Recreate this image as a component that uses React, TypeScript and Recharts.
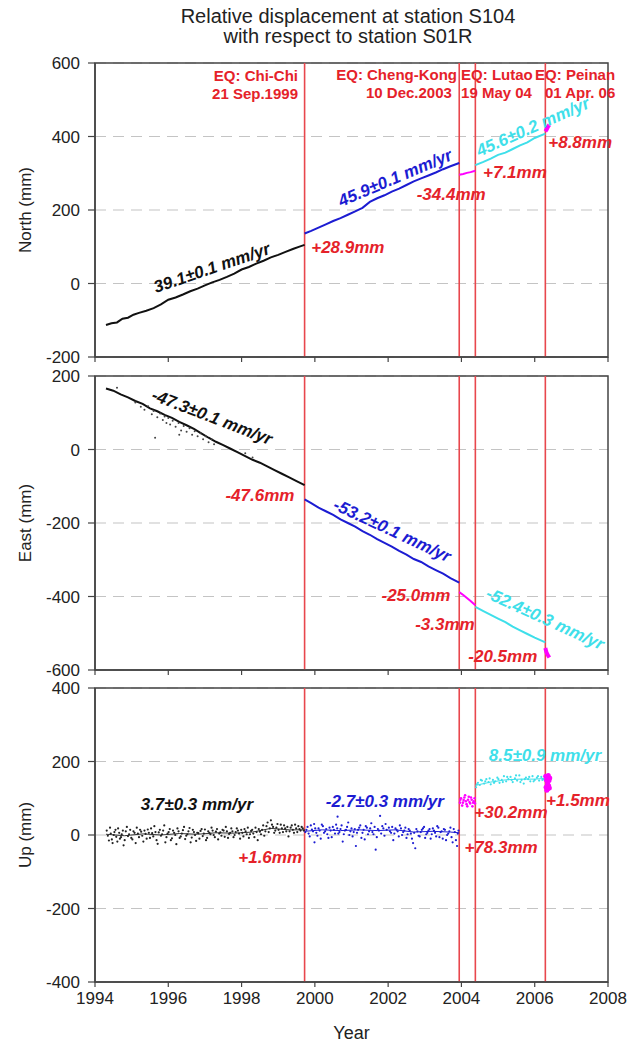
import React from "react";
import {
  ComposedChart,
  Line,
  Scatter,
  XAxis,
  YAxis,
  CartesianGrid,
  ReferenceLine,
  ReferenceArea,
} from "recharts";

type Pt = [number, number];

const years = [1994, 1996, 1998, 2000, 2002, 2004, 2006, 2008];
const quakeYears = [1999.72, 2003.94, 2004.38, 2006.29];

const northTicks = [-200, 0, 200, 400, 600];
const eastTicks = [-600, -400, -200, 0, 200];
const upTicks = [-400, -200, 0, 200, 400];

// North (mm)
const northBlack: Pt[] = [
  [1994.3, -113], [1994.45, -108], [1994.6, -106], [1994.75, -96], [1994.9, -93],
  [1995.05, -85], [1995.2, -80], [1995.4, -74], [1995.6, -67], [1995.8, -57],
  [1996.0, -44], [1996.2, -38], [1996.4, -30], [1996.6, -21], [1996.8, -14],
  [1997.0, -5], [1997.2, 3], [1997.4, 10], [1997.6, 18], [1997.8, 27],
  [1998.0, 38], [1998.2, 45], [1998.4, 54], [1998.6, 62], [1998.8, 71],
  [1999.0, 78], [1999.2, 86], [1999.4, 94], [1999.6, 101], [1999.72, 105],
];
const northBlue: Pt[] = [
  [1999.72, 136], [1999.9, 143], [2000.1, 152], [2000.3, 161], [2000.5, 170],
  [2000.7, 178], [2000.9, 187], [2001.1, 196], [2001.3, 206], [2001.5, 222],
  [2001.7, 232], [2001.9, 240], [2002.1, 250], [2002.3, 258], [2002.5, 268],
  [2002.7, 278], [2002.9, 286], [2003.1, 294], [2003.3, 302], [2003.5, 311],
  [2003.7, 319], [2003.94, 328],
];
const northMag1: Pt[] = [
  [2003.94, 296], [2004.05, 298], [2004.15, 301], [2004.25, 303], [2004.38, 307],
];
const northCyan: Pt[] = [
  [2004.38, 322], [2004.6, 331], [2004.8, 340], [2005.0, 350], [2005.2, 356],
  [2005.4, 366], [2005.6, 376], [2005.8, 384], [2006.0, 396], [2006.29, 408],
];
const northMag2: Pt[] = [[2006.29, 414], [2006.33, 420], [2006.37, 428], [2006.4, 432]];

// East (mm)
const eastBlack: Pt[] = [
  [1994.3, 166], [1994.5, 160], [1994.7, 150], [1994.9, 142], [1995.1, 132],
  [1995.3, 124], [1995.5, 112], [1995.7, 104], [1995.9, 94], [1996.1, 86],
  [1996.3, 75], [1996.5, 66], [1996.7, 56], [1996.9, 44], [1997.1, 32],
  [1997.3, 21], [1997.5, 12], [1997.7, 2], [1997.9, -8], [1998.1, -18],
  [1998.3, -28], [1998.5, -36], [1998.7, -46], [1998.9, -56], [1999.1, -66],
  [1999.3, -76], [1999.5, -86], [1999.72, -97],
];
const eastBlackScatter: Pt[] = [
  [1994.6, 168], [1995.1, 128], [1995.25, 116], [1995.35, 108], [1995.45, 118],
  [1995.55, 96], [1995.6, 105], [1995.7, 88], [1995.78, 98], [1995.85, 80],
  [1995.9, 90], [1995.95, 72], [1996.0, 86], [1996.05, 68], [1996.12, 78],
  [1996.2, 62], [1996.28, 72], [1996.35, 52], [1996.42, 64], [1996.5, 48],
  [1996.58, 58], [1996.65, 40], [1996.72, 50], [1996.8, 36], [1996.88, 44],
  [1996.95, 28], [1997.02, 36], [1997.1, 20], [1997.18, 28], [1997.25, 14],
  [1995.64, 32], [1996.3, 40], [1998.1, -10], [1998.3, -22],
];
const eastBlue: Pt[] = [
  [1999.72, -136], [1999.9, -146], [2000.1, -158], [2000.3, -168], [2000.5, -178],
  [2000.7, -190], [2000.9, -200], [2001.1, -210], [2001.3, -222], [2001.5, -232],
  [2001.7, -244], [2001.9, -254], [2002.1, -264], [2002.3, -276], [2002.5, -286],
  [2002.7, -298], [2002.9, -306], [2003.1, -318], [2003.3, -328], [2003.5, -338],
  [2003.7, -350], [2003.94, -362],
];
const eastMag1: Pt[] = [
  [2003.94, -388], [2004.05, -396], [2004.15, -404], [2004.25, -412], [2004.38, -424],
];
const eastCyan: Pt[] = [
  [2004.38, -428], [2004.6, -440], [2004.8, -450], [2005.0, -460], [2005.2, -470],
  [2005.4, -482], [2005.6, -492], [2005.8, -502], [2006.0, -512], [2006.29, -525],
];
const eastMag2: Pt[] = [[2006.29, -540], [2006.32, -552], [2006.36, -560], [2006.4, -566]];

// Up (mm)
const upBlack: Pt[] = [
  [1994.32, 12], [1994.38, -15], [1994.43, 4], [1994.48, -22], [1994.53, 8],
  [1994.58, -5], [1994.63, 18], [1994.68, -10], [1994.73, 2], [1994.78, -28],
  [1994.84, 10], [1994.9, -3], [1994.96, 14], [1995.02, -12], [1995.08, 6],
  [1995.14, 20], [1995.2, -6], [1995.26, 9], [1995.32, -18], [1995.38, 3],
  [1995.44, 15], [1995.5, -8], [1995.56, 5], [1995.62, 24], [1995.68, -14],
  [1995.74, 7], [1995.8, -2], [1995.86, 12], [1995.92, -20], [1995.98, 4],
  [1996.04, 16], [1996.1, -9], [1996.16, 6], [1996.22, -25], [1996.28, 10],
  [1996.34, -4], [1996.4, 13], [1996.46, -11], [1996.52, 2], [1996.58, 19],
  [1996.64, -7], [1996.7, 8], [1996.76, -16], [1996.82, 5], [1996.88, 11],
  [1996.94, -3], [1997.0, 15], [1997.06, -8], [1997.12, 6], [1997.18, 20],
  [1997.24, 0], [1997.3, 9], [1997.36, -12], [1997.42, 7], [1997.48, 14],
  [1997.54, -5], [1997.6, 10], [1997.66, 3], [1997.72, 18], [1997.78, -6],
  [1997.84, 8], [1997.9, 12], [1997.96, -10], [1998.02, 6], [1998.08, 16],
  [1998.14, 2], [1998.2, -8], [1998.26, 11], [1998.32, 4], [1998.38, 20],
  [1998.44, -14], [1998.5, 9], [1998.56, 14], [1998.62, -2], [1998.68, 24],
  [1998.74, 8], [1998.8, 40], [1998.86, 22], [1998.92, 12], [1998.98, 30],
  [1999.04, 6], [1999.1, 18], [1999.16, 26], [1999.22, 10], [1999.28, -4],
  [1999.34, 20], [1999.4, 14], [1999.46, 28], [1999.52, 8], [1999.58, 16],
  [1999.64, 22], [1999.7, 12],
  [1994.35, -2], [1994.41, 20], [1994.46, -12], [1994.51, 0], [1994.56, 14],
  [1994.61, -18], [1994.66, 6], [1994.71, -6], [1994.76, 12], [1994.81, -14],
  [1994.87, 22], [1994.93, 2], [1994.99, -8], [1995.05, 10], [1995.11, -22],
  [1995.17, 4], [1995.23, 14], [1995.29, -2], [1995.35, 12], [1995.41, -10],
  [1995.47, 6], [1995.53, 18], [1995.59, -4], [1995.65, 8], [1995.71, -24],
  [1995.77, 14], [1995.83, 2], [1995.89, 26], [1995.95, -6], [1996.01, 8],
  [1996.07, -14], [1996.13, 12], [1996.19, 0], [1996.25, 18], [1996.31, -8],
  [1996.37, 4], [1996.43, 22], [1996.49, -2], [1996.55, 10], [1996.61, -20],
  [1996.67, 14], [1996.73, 0], [1996.79, 6], [1996.85, -10], [1996.91, 16],
  [1996.97, 4], [1997.03, -14], [1997.09, 10], [1997.15, 2], [1997.21, 12],
  [1997.27, -6], [1997.33, 16], [1997.39, 4], [1997.45, -2], [1997.51, 12],
  [1997.57, 22], [1997.63, -8], [1997.69, 6], [1997.75, 10], [1997.81, 0],
  [1997.87, 18], [1997.93, 4], [1997.99, 14], [1998.05, -4], [1998.11, 10],
  [1998.17, 20], [1998.23, 2], [1998.29, 14], [1998.35, -6], [1998.41, 8],
  [1998.47, 16], [1998.53, 2], [1998.59, 26], [1998.65, 10], [1998.71, 34],
  [1998.77, 18], [1998.83, 28], [1998.89, 6], [1998.95, 20], [1999.01, 14],
  [1999.07, 28], [1999.13, 8], [1999.19, 18], [1999.25, 22], [1999.31, 10],
  [1999.37, 26], [1999.43, 6], [1999.49, 18], [1999.55, 24], [1999.61, 12],
  [1999.67, 18],
];
const upBlackCore: Pt[] = [
  [1994.3, 2], [1994.8, -2], [1995.3, 3], [1995.8, 0], [1996.3, 4], [1996.8, 2],
  [1997.3, 6], [1997.8, 5], [1998.3, 8], [1998.8, 18], [1999.3, 14], [1999.72, 14],
];
const upBlue: Pt[] = [
  [1999.74, 8], [1999.8, 22], [1999.86, -4], [1999.92, 15], [1999.98, 30],
  [2000.04, 6], [2000.1, 18], [2000.16, -10], [2000.22, 24], [2000.28, 10],
  [2000.34, 2], [2000.4, 20], [2000.46, -6], [2000.52, 14], [2000.58, 28],
  [2000.62, 50], [2000.64, 4], [2000.7, 16], [2000.76, -18], [2000.82, 12],
  [2000.88, 22], [2000.94, 0], [2001.0, 18], [2001.06, 8], [2001.12, -30],
  [2001.18, 14], [2001.24, 26], [2001.3, 6], [2001.36, -12], [2001.42, 20],
  [2001.48, 10], [2001.54, 32], [2001.6, 2], [2001.66, -40], [2001.72, 16],
  [2001.78, 52], [2001.84, 24], [2001.9, -2], [2001.96, 14], [2002.02, 20],
  [2002.08, 6], [2002.14, -14], [2002.2, 18], [2002.26, 10], [2002.32, 26],
  [2002.38, 0], [2002.44, 12], [2002.5, -8], [2002.56, 16], [2002.62, 4],
  [2002.68, -22], [2002.74, -36], [2002.8, 10], [2002.86, -4], [2002.92, 14],
  [2002.98, 22], [2003.04, 2], [2003.1, 12], [2003.16, -10], [2003.22, 18],
  [2003.28, 6], [2003.34, 24], [2003.4, -6], [2003.46, 10], [2003.52, 16],
  [2003.58, -14], [2003.64, 4], [2003.7, 20], [2003.76, -20], [2003.82, 8],
  [2003.88, -30], [2003.92, 12],
  [1999.77, 14], [1999.83, 4], [1999.89, 26], [1999.95, 10], [2000.01, 18],
  [2000.07, -2], [2000.13, 12], [2000.19, 28], [2000.25, 6], [2000.31, 16],
  [2000.37, -8], [2000.43, 12], [2000.49, 22], [2000.55, 4], [2000.61, 18],
  [2000.67, 8], [2000.73, 26], [2000.79, 2], [2000.85, 14], [2000.91, 34],
  [2000.97, 10], [2001.03, -4], [2001.09, 16], [2001.15, 6], [2001.21, 20],
  [2001.27, -8], [2001.33, 14], [2001.39, 24], [2001.45, 2], [2001.51, 18],
  [2001.57, 8], [2001.63, 22], [2001.69, -6], [2001.75, 12], [2001.81, 4],
  [2001.87, 18], [2001.93, 30], [1999.99, -20], [2002.05, 10], [2002.11, 22],
  [2002.17, 4], [2002.23, 14], [2002.29, -4], [2002.35, 18], [2002.41, 8],
  [2002.47, 20], [2002.53, 2], [2002.59, 12], [2002.65, -10], [2002.71, 6],
  [2002.77, 16], [2002.83, -2], [2002.89, 8], [2002.95, 18], [2003.01, -8],
  [2003.07, 6], [2003.13, 16], [2003.19, 2], [2003.25, 12], [2003.31, -4],
  [2003.37, 20], [2003.43, 8], [2003.49, -10], [2003.55, 14], [2003.61, 0],
  [2003.67, 10], [2003.73, -6], [2003.79, 16], [2003.85, -14], [2003.9, 4],
];
const upBlueCore: Pt[] = [
  [1999.72, 10], [2000.2, 14], [2000.7, 12], [2001.2, 14], [2001.7, 12],
  [2002.2, 14], [2002.7, 8], [2003.2, 10], [2003.7, 8], [2003.94, 6],
];
const upMag1: Pt[] = [
  [2003.96, 88], [2003.99, 100], [2004.02, 80], [2004.06, 95], [2004.1, 108],
  [2004.14, 84], [2004.18, 96], [2004.22, 90], [2004.26, 102], [2004.3, 78],
  [2004.34, 92], [2004.37, 86],
  [2003.97, 96], [2004.04, 88], [2004.08, 102], [2004.12, 92], [2004.16, 78],
  [2004.2, 104], [2004.24, 86], [2004.28, 96], [2004.32, 88], [2004.36, 100],
];
const upCyan: Pt[] = [
  [2004.4, 130], [2004.45, 142], [2004.5, 136], [2004.56, 148], [2004.62, 140],
  [2004.68, 152], [2004.74, 144], [2004.8, 138], [2004.86, 150], [2004.92, 146],
  [2004.98, 156], [2005.04, 142], [2005.1, 150], [2005.16, 160], [2005.22, 146],
  [2005.28, 152], [2005.34, 158], [2005.4, 144], [2005.46, 154], [2005.52, 148],
  [2005.58, 162], [2005.64, 150], [2005.7, 140], [2005.76, 156], [2005.82, 152],
  [2005.88, 146], [2005.94, 160], [2006.0, 150], [2006.06, 156], [2006.12, 148],
  [2006.18, 158], [2006.24, 152],
  [2004.42, 138], [2004.53, 150], [2004.65, 146], [2004.77, 154], [2004.89, 142],
  [2005.01, 152], [2005.13, 144], [2005.25, 158], [2005.37, 150], [2005.49, 162],
  [2005.61, 144], [2005.73, 152], [2005.85, 158], [2005.97, 146], [2006.09, 160],
  [2006.21, 150],
];
const upCyanCore: Pt[] = [
  [2004.38, 135], [2004.8, 144], [2005.2, 150], [2005.6, 152], [2006.0, 152], [2006.29, 154],
];
const upMag2: Pt[] = [
  [2006.3, 160], [2006.31, 130], [2006.32, 150], [2006.33, 122], [2006.34, 158],
  [2006.35, 140], [2006.36, 126], [2006.37, 162], [2006.38, 134], [2006.39, 148],
  [2006.4, 128], [2006.41, 155],
];

const BLACK = "#111";
const BLUE = "#1c1cd2";
const MAGENTA = "#f0f";
const CYAN = "#3fdfea";
const RED = "#e5222a";
const QUAKE = "#e8474d";

type Note = {
  x: number;
  y: number;
  text: string;
  color: string;
  angle?: number;
  anchor?: "start" | "middle" | "end";
  eq?: boolean;
};

const northNotes: Note[] = [
  { x: 1999.54, y: 567, text: "EQ: Chi-Chi", color: RED, anchor: "end", eq: true },
  { x: 1999.54, y: 518, text: "21 Sep.1999", color: RED, anchor: "end", eq: true },
  { x: 2003.88, y: 570, text: "EQ: Cheng-Kong", color: RED, anchor: "end", eq: true },
  { x: 2003.74, y: 521, text: "10 Dec.2003", color: RED, anchor: "end", eq: true },
  { x: 2003.99, y: 570, text: "EQ: Lutao", color: RED, anchor: "start", eq: true },
  { x: 2003.99, y: 521, text: "19 May 04", color: RED, anchor: "start", eq: true },
  { x: 2006.01, y: 570, text: "EQ: Peinan", color: RED, anchor: "start", eq: true },
  { x: 2006.28, y: 521, text: "01 Apr. 06", color: RED, anchor: "start", eq: true },
  { x: 1997.19, y: 42, text: "39.1±0.1 mm/yr", color: BLACK, angle: -19 },
  { x: 2000.9, y: 97, text: "+28.9mm", color: RED },
  { x: 2002.19, y: 287, text: "45.9±0.1 mm/yr", color: BLUE, angle: -23 },
  { x: 2003.72, y: 241, text: "-34.4mm", color: RED },
  { x: 2005.46, y: 301, text: "+7.1mm", color: RED },
  { x: 2005.95, y: 426, text: "45.6±0.2 mm/yr", color: CYAN, angle: -24 },
  { x: 2007.24, y: 385, text: "+8.8mm", color: RED },
];
const eastNotes: Note[] = [
  { x: 1997.19, y: 88, text: "-47.3±0.1 mm/yr", color: BLACK, angle: 21 },
  { x: 1998.5, y: -125, text: "-47.6mm", color: RED },
  { x: 2002.11, y: -221, text: "-53.2±0.1 mm/yr", color: BLUE, angle: 25 },
  { x: 2002.76, y: -398, text: "-25.0mm", color: RED },
  { x: 2003.55, y: -475, text: "-3.3mm", color: RED },
  { x: 2006.28, y: -461, text: "-52.4±0.3 mm/yr", color: CYAN, angle: 24.5 },
  { x: 2005.13, y: -562, text: "-20.5mm", color: RED },
];
const upNotes: Note[] = [
  { x: 1996.78, y: 82, text: "3.7±0.3 mm/yr", color: BLACK },
  { x: 1998.78, y: -60, text: "+1.6mm", color: RED },
  { x: 2001.91, y: 90, text: "-2.7±0.3 mm/yr", color: BLUE },
  { x: 2005.35, y: 60, text: "+30.2mm", color: RED },
  { x: 2005.08, y: -33, text: "+78.3mm", color: RED },
  { x: 2006.28, y: 215, text: "8.5±0.9 mm/yr", color: CYAN },
  { x: 2007.18, y: 95, text: "+1.5mm", color: RED },
];

const FONT = "'Liberation Sans', Arial, Helvetica, sans-serif";
const PLOT_H = 294;

const toXY = (pts: Pt[]) => pts.map(([x, y]) => ({ x, y }));

const renderNote = (p: any) => {
  const n: Note = p.payload;
  const style = n.eq
    ? { fontSize: 15, fontWeight: 700 }
    : { fontSize: 17, fontWeight: 700, fontStyle: "italic" as const };
  return (
    <text
      x={p.cx}
      y={p.cy}
      textAnchor={n.anchor ?? "middle"}
      dominantBaseline="central"
      fill={n.color}
      fontFamily={FONT}
      transform={n.angle ? `rotate(${n.angle} ${p.cx} ${p.cy})` : undefined}
      {...style}
    >
      {n.text}
    </text>
  );
};

const dotShape = (color: string, r: number) => (p: any) =>
  <circle cx={p.cx} cy={p.cy} r={r} fill={color} />;

type Seg = { pts: Pt[]; color: string; width: number };
type Dots = { pts: Pt[]; color: string; r: number };

type PanelProps = {
  top: number;
  marginTop: number;
  axisHeight: number;
  domain: [number, number];
  ticks: number[];
  label: string;
  segs: Seg[];
  dots: Dots[];
  notes: Note[];
  bottom?: boolean;
};

function Panel({ top, marginTop, axisHeight, domain, ticks, label, segs, dots, notes, bottom }: PanelProps) {
  return (
    <div style={{ position: "absolute", left: 0, top }}>
      <ComposedChart
        width={638}
        height={marginTop + PLOT_H + axisHeight}
        margin={{ top: marginTop, right: 30, bottom: 0, left: 0 }}
        style={{ fontFamily: FONT }}
      >
        <CartesianGrid vertical={false} stroke="#c4c4c4" strokeDasharray="11 7" strokeWidth={1.2} />
        <XAxis
          dataKey="x"
          type="number"
          domain={[1994, 2008]}
          ticks={years}
          interval={0}
          height={axisHeight}
          tickSize={5}
          tickMargin={5}
          axisLine={{ stroke: "#444", strokeWidth: 1.5 }}
          tickLine={{ stroke: "#444", strokeWidth: 1.2 }}
          tick={{ fill: "#222", fontSize: 17 }}
          tickFormatter={bottom ? (v: number) => String(v) : () => ""}
          label={
            bottom
              ? {
                  content: ({ viewBox }: any) => (
                    <text
                      x={viewBox.x + viewBox.width / 2}
                      y={viewBox.y + viewBox.height - 6}
                      textAnchor="middle"
                      fontSize={18}
                      fill="#222"
                      fontFamily={FONT}
                    >
                      Year
                    </text>
                  ),
                }
              : undefined
          }
        />
        <YAxis
          type="number"
          domain={domain}
          ticks={ticks}
          interval={0}
          width={95}
          tickSize={7}
          tickMargin={8}
          axisLine={{ stroke: "#444", strokeWidth: 1.5 }}
          tickLine={{ stroke: "#444", strokeWidth: 1.2 }}
          tick={{ fill: "#222", fontSize: 17 }}
          label={{
            content: ({ viewBox }: any) => {
              const cy = viewBox.y + viewBox.height / 2;
              return (
                <text
                  x={25}
                  y={cy}
                  textAnchor="middle"
                  dominantBaseline="central"
                  fontSize={17}
                  fill="#222"
                  fontFamily={FONT}
                  transform={`rotate(-90 25 ${cy})`}
                >
                  {label}
                </text>
              );
            },
          }}
        />
        {quakeYears.map((q) => (
          <ReferenceLine key={q} x={q} stroke={QUAKE} strokeWidth={1.6} />
        ))}
        {dots.map((d, i) => (
          <Scatter
            key={"d" + i}
            data={toXY(d.pts)}
            dataKey="y"
            shape={dotShape(d.color, d.r)}
            isAnimationActive={false}
          />
        ))}
        {segs.map((s, i) => (
          <Line
            key={"s" + i}
            data={toXY(s.pts)}
            dataKey="y"
            type="linear"
            stroke={s.color}
            strokeWidth={s.width}
            dot={false}
            activeDot={false}
            isAnimationActive={false}
          />
        ))}
        <ReferenceArea
          x1={1994}
          x2={2008}
          y1={domain[0]}
          y2={domain[1]}
          fill="none"
          stroke="#444"
          strokeWidth={1.5}
        />
        <Scatter data={notes} dataKey="y" shape={renderNote} isAnimationActive={false} />
      </ComposedChart>
    </div>
  );
}

export default function App() {
  return (
    <div
      style={{
        position: "absolute",
        left: 0,
        top: 0,
        width: 638,
        height: 1045,
        background: "#fff",
        fontFamily: FONT,
        overflow: "hidden",
      }}
    >
      <div
        style={{
          position: "absolute",
          left: 48,
          top: 6,
          width: 600,
          textAlign: "center",
          fontSize: 20,
          lineHeight: "20px",
          color: "#222",
        }}
      >
        Relative displacement at station S104
        <br />
        with respect to station S01R
      </div>
      <Panel
        top={0}
        marginTop={63}
        axisHeight={12}
        domain={[-200, 600]}
        ticks={northTicks}
        label="North (mm)"
        segs={[
          { pts: northBlack, color: BLACK, width: 2 },
          { pts: northBlue, color: BLUE, width: 2 },
          { pts: northMag1, color: MAGENTA, width: 2 },
          { pts: northCyan, color: CYAN, width: 2 },
          { pts: northMag2, color: MAGENTA, width: 4 },
        ]}
        dots={[]}
        notes={northNotes}
      />
      <Panel
        top={358}
        marginTop={18}
        axisHeight={12}
        domain={[-600, 200]}
        ticks={eastTicks}
        label="East (mm)"
        segs={[
          { pts: eastBlack, color: BLACK, width: 2 },
          { pts: eastBlue, color: BLUE, width: 2 },
          { pts: eastMag1, color: MAGENTA, width: 2 },
          { pts: eastCyan, color: CYAN, width: 2 },
          { pts: eastMag2, color: MAGENTA, width: 4 },
        ]}
        dots={[{ pts: eastBlackScatter, color: "#444", r: 1 }]}
        notes={eastNotes}
      />
      <Panel
        top={670}
        marginTop={18}
        axisHeight={63}
        domain={[-400, 400]}
        ticks={upTicks}
        label="Up (mm)"
        bottom
        segs={[
          { pts: upBlackCore, color: "#333", width: 1 },
          { pts: upBlueCore, color: BLUE, width: 1 },
          { pts: upCyanCore, color: CYAN, width: 1 },
        ]}
        dots={[
          { pts: upBlack, color: "#222", r: 1.1 },
          { pts: upBlue, color: BLUE, r: 1.1 },
          { pts: upMag1, color: MAGENTA, r: 1.3 },
          { pts: upCyan, color: CYAN, r: 1.1 },
          { pts: upMag2, color: MAGENTA, r: 2.5 },
        ]}
        notes={upNotes}
      />
    </div>
  );
}
